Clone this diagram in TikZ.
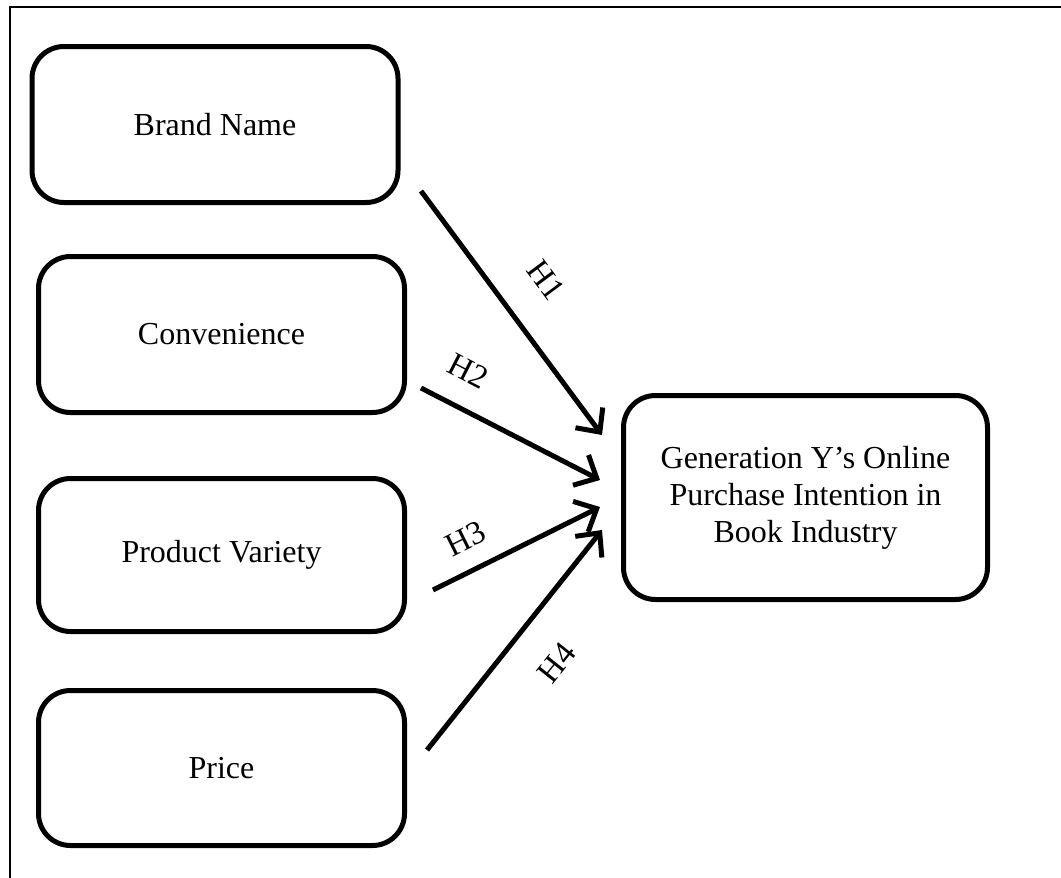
\documentclass[tikz,border=0pt]{standalone}
\usepackage{fontspec}
\setmainfont{Liberation Serif}
\usetikzlibrary{arrows.meta}
\begin{document}
\begin{tikzpicture}[x=1pt,y=-1pt,
  factor/.style={draw, line width=5pt, rounded corners=32pt,
    minimum width=366pt, minimum height=156pt, inner sep=0pt,
    align=center, font=\fontsize{32}{37}\selectfont},
  link/.style={line width=5pt, -{Straight Barb[length=18pt,width=34pt,line width=5pt]}},
  hyp/.style={font=\fontsize{33}{37}\selectfont, sloped, inner sep=0pt}]
  \useasboundingbox (0,0) rectangle (1061,878);
  % frame: only its top and left edges fall inside the page
  \draw[line width=2pt] (10,878) -- (10,7) -- (1061,7);

  % factors
  \node[factor] (brand) at (215,124.5) {Brand Name};
  \node[factor] (conv)  at (221.5,334.5) {Convenience};
  \node[factor, minimum height=153pt] (variety) at (221.5,555) {Product Variety};
  \node[factor, minimum height=155pt] (price) at (221.5,768) {Price};

  % outcome
  \node[factor, minimum width=364pt, minimum height=204pt] (intent) at (805.5,497.5)
    {Generation Y’s Online\\Purchase Intention in\\Book Industry};

  % arrow ends
  \coordinate (s1) at (421,191);
  \coordinate (s2) at (421,388);
  \coordinate (s3) at (433,590);
  \coordinate (s4) at (427,750);
  \coordinate (t1) at (602,435);
  \coordinate (t2) at (600,480);
  \coordinate (t3) at (600,507);
  \coordinate (t4) at (602,530);

  \draw[link] (s1) -- node[hyp, above=34pt, pos=0.48] (h1) {H1} (t1);
  \draw[link] (s2) -- node[hyp, above=23pt, pos=0.17] (h2) {H2} (t2);
  \draw[link] (s3) -- node[hyp, above=18pt, pos=0.28] (h3) {H3} (t3);
  \draw[link] (s4) -- node[hyp, below=34pt, pos=0.53] (h4) {H4} (t4);
\end{tikzpicture}
\end{document}
